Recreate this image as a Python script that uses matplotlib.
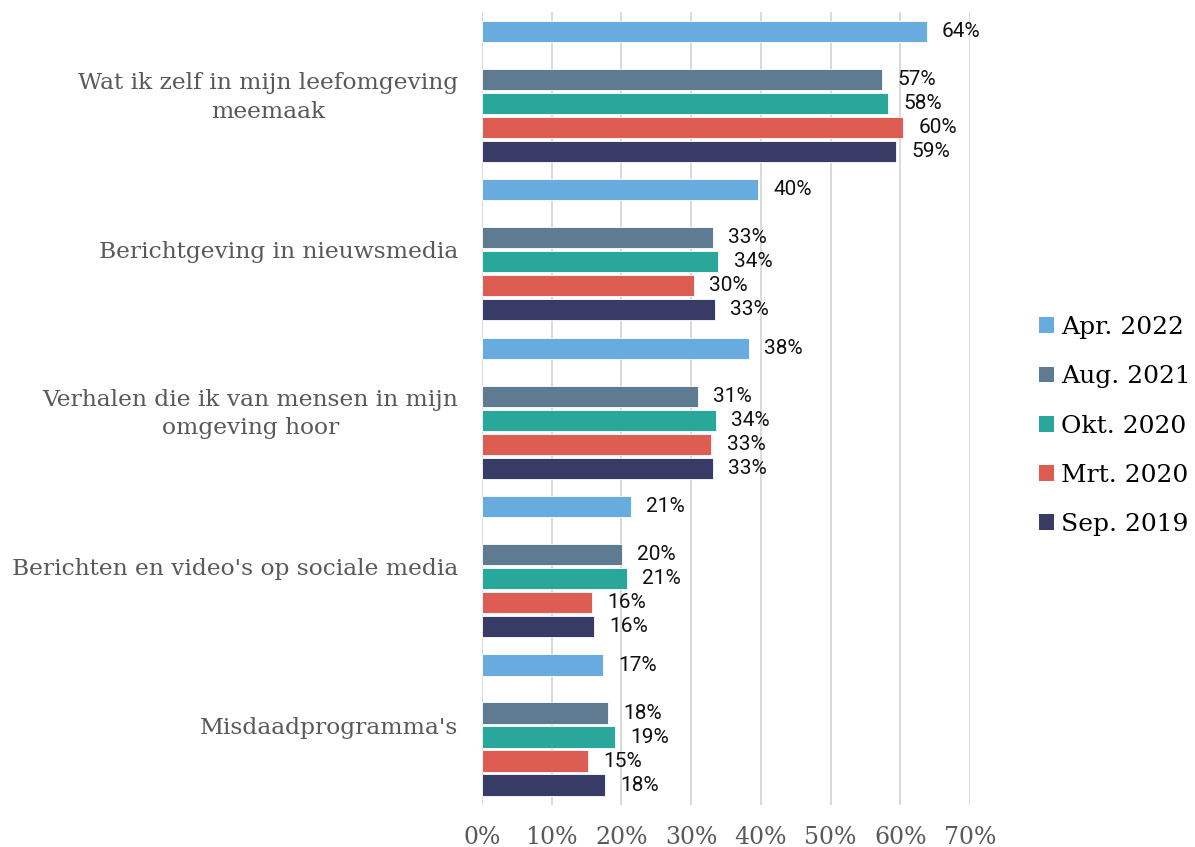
import numpy as np
import matplotlib
matplotlib.use("Agg")
import matplotlib.pyplot as plt
from matplotlib.patches import Patch

# --- data ---
categories = [
    "Wat ik zelf in mijn leefomgeving\nmeemaak",
    "Berichtgeving in nieuwsmedia",
    "Verhalen die ik van mensen in mijn\nomgeving hoor",
    "Berichten en video's op sociale media",
    "Misdaadprogramma's",
]
series_names = ["Apr. 2022", "Aug. 2021", "Okt. 2020", "Mrt. 2020", "Sep. 2019"]
apr_2022 = [63.8, 39.6, 38.3, 21.4, 17.4]
aug_2021 = [57.4, 33.1, 31.0, 20.1, 18.1]
okt_2020 = [58.2, 33.9, 33.6, 20.8, 19.1]
mrt_2020 = [60.4, 30.4, 32.9, 15.8, 15.2]
sep_2019 = [59.4, 33.4, 33.1, 16.1, 17.6]
series_values = [apr_2022, aug_2021, okt_2020, mrt_2020, sep_2019]
x_ticks = [0, 10, 20, 30, 40, 50, 60, 70]

colors = ["#68abde", "#5f7b91", "#2aa79b", "#de5d52", "#383b66"]
# slot within a group (slot 1 is an empty gap after Apr. 2022)
slots = [0, 2, 3, 4, 5]
group_step = 6.6
bar_h = 0.88

serif = "DejaVu Serif"
sans = "Roboto"

fig = plt.figure(figsize=(11.95, 8.47), dpi=100)
ax = fig.add_axes([0.4033, 0.0496, 0.8117 - 0.4033, 0.9858 - 0.0496])

bases = np.arange(len(categories)) * group_step
for vals, slot, col in zip(series_values, slots, colors):
    ypos = bases + slot
    ax.barh(ypos, vals, height=bar_h, color=col, edgecolor="white",
            linewidth=0.6, zorder=3)
    for y, v in zip(ypos, vals):
        ax.annotate(f"{v:.0f}%", (v, y), xytext=(11, 0), textcoords="offset points",
                    ha="left", va="center", fontsize=15, family=sans,
                    color="#111111")

ax.set_xlim(0, 70)
ax.set_ylim(bases[-1] + 5 + 0.83, -0.8)
ax.set_xticks(x_ticks)
ax.set_xticklabels([f"{t}%" for t in x_ticks], family=serif, fontsize=17,
                   color="#595959")
ax.set_yticks(bases + 2.5)
ax.set_yticklabels(categories, family=serif, fontsize=16.8, color="#595959")
for lab in ax.get_yticklabels():
    lab.set_multialignment("center")
    lab.set_linespacing(1.4)
ax.tick_params(axis="x", length=0, pad=15)
ax.tick_params(axis="y", length=0, pad=17)
ax.grid(axis="x", color="#d9d9d9", linewidth=1.4, zorder=0)
for s in ax.spines.values():
    s.set_visible(False)

handles = [Patch(facecolor=c, edgecolor="none") for c in colors]
fig.legend(handles, series_names, loc="center left",
           bbox_to_anchor=(0.861, 0.497), frameon=False,
           prop={"family": serif, "size": 18}, handlelength=0.6,
           handleheight=0.6, handletextpad=0.3, labelspacing=1.05,
           borderaxespad=0)

fig.savefig("out.png", dpi=100)
